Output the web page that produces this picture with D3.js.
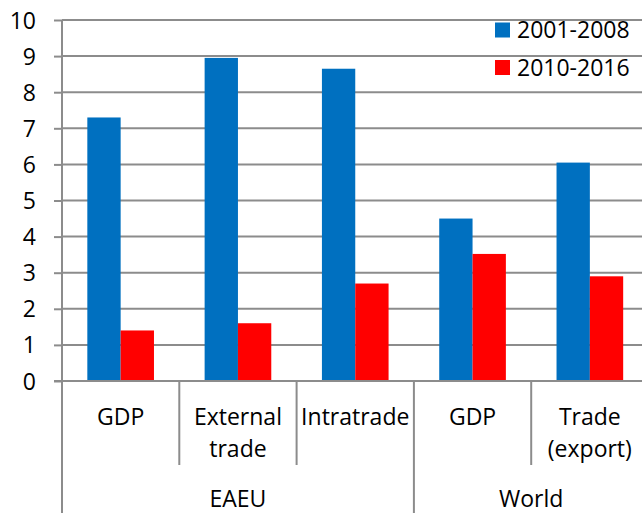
<!DOCTYPE html>
<html>
<head>
<meta charset="utf-8">
<script src="https://cdn.jsdelivr.net/npm/d3@7/dist/d3.min.js"></script>
<style>
html,body{margin:0;padding:0;background:#fff;overflow:hidden;}
text{font-family:"Open Sans",sans-serif;fill:#000;}
</style>
</head>
<body>
<svg id="chart" width="642" height="513"></svg>
<script>
const categories = [["GDP"], ["External", "trade"], ["Intratrade"], ["GDP"], ["Trade", "(export)"]];
const groups = ["EAEU", "EAEU", "EAEU", "World", "World"];
const groupNames = ["EAEU", "World"];
const seriesNames = ["2001-2008", "2010-2016"];
const series1 = [7.3, 8.95, 8.65, 4.5, 6.05];
const series2 = [1.4, 1.6, 2.7, 3.52, 2.9];
const yTicks = [0, 1, 2, 3, 4, 5, 6, 7, 8, 9, 10];
const colors = ["#0070C0", "#FF0000"];

(function() {
const svg = d3.select("#chart");
const mLeft = 62, mRight = 648.5, mTop = 20, mBottom = 381;
const fontSize = 23;

const y = d3.scaleLinear().domain([0, 10]).range([mBottom, mTop]);
const idx = categories.map((d, i) => i);
const x = d3.scaleBand().domain(idx).range([mLeft, mRight]).paddingInner(0).paddingOuter(0);
const inner = d3.scaleBand().domain([0, 1]).range([0, x.bandwidth()]).paddingInner(0).paddingOuter(0.76);

const grid = "#8c8c8c";

// gridlines
svg.append("g").selectAll("line").data(yTicks.filter(d => d > 0)).join("line")
  .attr("x1", mLeft).attr("x2", mRight)
  .attr("y1", d => y(d)).attr("y2", d => y(d))
  .attr("stroke", grid).attr("stroke-width", 2);

// bars
const data = [series1, series2];
data.forEach((s, si) => {
  svg.append("g").selectAll("rect").data(s).join("rect")
    .attr("x", (d, i) => x(i) + inner(si))
    .attr("width", inner.bandwidth())
    .attr("y", d => y(d))
    .attr("height", d => y(0) - y(d))
    .attr("fill", colors[si]);
});

// y axis
const yAxis = d3.axisLeft(y).tickValues(yTicks).tickSize(8).tickPadding(18).tickFormat(d3.format("d"));
const ya = svg.append("g").attr("transform", `translate(${mLeft},0)`).call(yAxis);
ya.select(".domain").remove();
ya.selectAll(".tick line").attr("stroke", grid).attr("stroke-width", 2);
ya.selectAll(".tick text").attr("font-size", fontSize).attr("font-family", "Open Sans").attr("fill", "#000").attr("dy", "0.35em");

// y axis line extending to bottom
svg.append("line").attr("x1", mLeft).attr("x2", mLeft).attr("y1", mTop).attr("y2", 513)
  .attr("stroke", grid).attr("stroke-width", 2);

// x axis line
svg.append("line").attr("x1", mLeft - 8).attr("x2", mRight).attr("y1", mBottom).attr("y2", mBottom)
  .attr("stroke", grid).attr("stroke-width", 2);

// category separators
svg.append("g").selectAll("line").data(idx.slice(1)).join("line")
  .attr("x1", d => x(d)).attr("x2", d => x(d))
  .attr("y1", mBottom).attr("y2", d => groups[d] !== groups[d - 1] ? 513 : 465)
  .attr("stroke", grid).attr("stroke-width", 2);

// category labels
const cl = svg.append("g").selectAll("text").data(categories).join("text")
  .attr("x", (d, i) => x(i) + x.bandwidth() / 2)
  .attr("y", 417)
  .attr("text-anchor", "middle")
  .attr("font-size", fontSize);
cl.each(function(d) {
  const t = d3.select(this);
  d.forEach((line, li) => {
    t.append("tspan").attr("x", t.attr("x")).attr("y", 417 + li * 32).attr("dy", "0.35em").text(line);
  });
});

// group labels
groupNames.forEach(g => {
  const members = idx.filter(i => groups[i] === g);
  const x0 = x(members[0]), x1 = x(members[members.length - 1]) + x.bandwidth();
  svg.append("text").attr("x", (x0 + x1) / 2).attr("y", 499).attr("dy", "0.35em")
    .attr("text-anchor", "middle").attr("font-size", fontSize).text(g);
});

// legend
const lg = svg.append("g");
seriesNames.forEach((n, i) => {
  const ly = 30 + i * 37.5;
  lg.append("rect").attr("x", 495).attr("y", ly - 7.5).attr("width", 15).attr("height", 15).attr("fill", colors[i]);
  lg.append("text").attr("x", 517).attr("y", ly).attr("dy", "0.35em").attr("font-size", fontSize).text(n);
});
})();
</script>
</body>
</html>
